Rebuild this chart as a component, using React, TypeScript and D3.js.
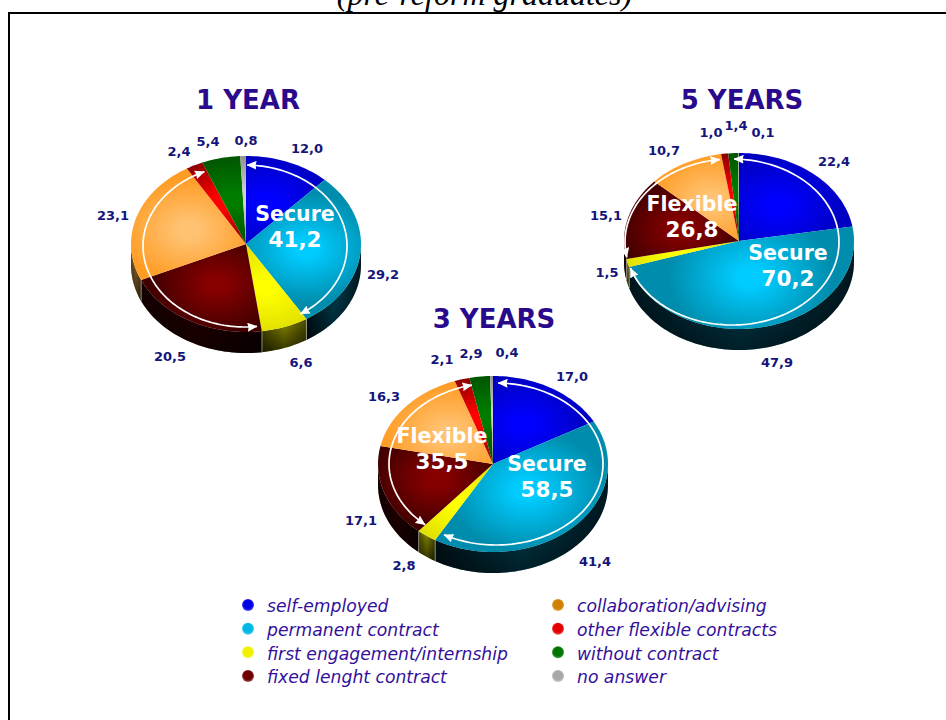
import React from "react";
import * as d3 from "d3";

// ---------- data ----------
const categories = ["self-employed", "permanent contract", "first engagement/internship", "fixed lenght contract", "collaboration/advising", "other flexible contracts", "without contract", "no answer"];
const year1Values = [12.0, 29.2, 6.6, 20.5, 23.1, 2.4, 5.4, 0.8];
const year3Values = [17.0, 41.4, 2.8, 17.1, 16.3, 2.1, 2.9, 0.4];
const year5Values = [22.4, 47.9, 1.5, 15.1, 10.7, 1.0, 1.4, 0.1];
const year1Labels = ["12,0", "29,2", "6,6", "20,5", "23,1", "2,4", "5,4", "0,8"];
const year3Labels = ["17,0", "41,4", "2,8", "17,1", "16,3", "2,1", "2,9", "0,4"];
const year5Labels = ["22,4", "47,9", "1,5", "15,1", "10,7", "1,0", "1,4", "0,1"];
const pieTitles = ["1 YEAR", "3 YEARS", "5 YEARS"];
const secureTotals = ["41,2", "58,5", "70,2"];
const flexibleTotals = ["", "35,5", "26,8"];
const subtitle = "(pre-reform graduates)";

// ---------- styling and layout ----------
const W = 946, H = 720, RX = 115, RY = 88, DEPTH = 21;
const TAU = Math.PI * 2;
const centreFill = ["#0000ff", "#00ccff", "#ffff00", "#860000", "#ffc272", "#ff0000", "#007c00", "#d0d0d0"];
const edgeFill = ["#0000c0", "#008cac", "#e0e000", "#400000", "#ff9c24", "#8a0000", "#005400", "#909090"];
const sideMid = ["#000088", "#005a74", "#8c8c00", "#300000", "#a07830", "#600000", "#003800", "#707070"];
const sideEdge = ["#000040", "#001c26", "#4c4c00", "#140000", "#705020", "#300000", "#001800", "#404040"];
const legendFill = ["#0000e6", "#00b8e6", "#f0f000", "#700000", "#d08000", "#e60000", "#007400", "#a8a8a8"];
const INK = "#14147a", TITLE_INK = "#2a0a8c", LEGEND_INK = "#33109c";

const FONT = "'DejaVu Sans', Verdana, sans-serif";

type Txt = [number, number];
type PieSpec = {
  key: string; values: number[]; labels: string[]; title: string; titleX: number; titleY: number;
  cx: number; cy: number;
  arc: { cx: number; cy: number; rx: number; ry: number };
  labelAt: Txt[];
  secureAt: Txt; secureText: string;
  flexAt: Txt | null; flexText: string;
};

const pies: PieSpec[] = [
  {
    key: "y1", values: year1Values, labels: year1Labels, title: pieTitles[0], titleX: 248, titleY: 109,
    cx: 246, cy: 244, arc: { cx: 245, cy: 246, rx: 102, ry: 81 },
    labelAt: [[307, 148], [383, 274], [301, 362], [170, 356], [113, 215], [179, 151], [208, 141], [246, 140]],
    secureAt: [295, 214], secureText: secureTotals[0], flexAt: null, flexText: flexibleTotals[0],
  },
  {
    key: "y5", values: year5Values, labels: year5Labels, title: pieTitles[2], titleX: 742, titleY: 109,
    cx: 739, cy: 241, arc: { cx: 732, cy: 242, rx: 107, ry: 83 },
    labelAt: [[834, 161], [777, 362], [607, 272], [606, 215], [664, 150], [711, 132], [736, 125], [763, 132]],
    secureAt: [788, 253], secureText: secureTotals[2], flexAt: [692, 204], flexText: flexibleTotals[2],
  },
  {
    key: "y3", values: year3Values, labels: year3Labels, title: pieTitles[1], titleX: 494, titleY: 328,
    cx: 493, cy: 464, arc: { cx: 496, cy: 464, rx: 107, ry: 81 },
    labelAt: [[572, 376], [595, 561], [404, 565], [361, 520], [384, 396], [442, 359], [471, 353], [507, 352]],
    secureAt: [547, 464], secureText: secureTotals[1], flexAt: [442, 436], flexText: flexibleTotals[1],
  },
];

const pieGen = d3.pie<number>().sort(null).value((d) => d);
const lineGen = d3.line<[number, number]>();

const samples = (a: number, b: number): number[] => {
  const n = Math.max(2, Math.ceil(Math.abs(b - a) / 0.03));
  return d3.range(n + 1).map((i) => a + ((b - a) * i) / n);
};
const onEllipse = (cx: number, cy: number, rx: number, ry: number, t: number): [number, number] => [
  cx + rx * Math.sin(t),
  cy - ry * Math.cos(t),
];

function PieChart({ spec }: { spec: PieSpec }) {
  const { cx, cy, arc } = spec;
  const arcs = pieGen(spec.values);
  const sideLo = Math.PI / 2, sideHi = (Math.PI * 3) / 2;

  const v = spec.values;
  const total = d3.sum(v);
  const secureEnd = ((v[0] + v[1]) / total) * TAU;
  const flexStart = ((v[0] + v[1] + v[2]) / total) * TAU;
  const flexEnd = ((v[0] + v[1] + v[2] + v[3] + v[4] + v[5]) / total) * TAU;

  const arcLine = (a: number, b: number) =>
    lineGen(samples(a, b).map((t) => onEllipse(arc.cx, arc.cy, arc.rx, arc.ry, t))) ?? "";

  return (
    <g>
      <defs>
        <linearGradient id={`${spec.key}-shade`} x1="0" y1="0" x2="0" y2="1">
          <stop offset="0" stopColor="#000" stopOpacity="0" />
          <stop offset="1" stopColor="#000" stopOpacity="0.65" />
        </linearGradient>
        {arcs.map((a, i) => {
          const mid = (a.startAngle + a.endAngle) / 2;
          const share = (a.endAngle - a.startAngle) / TAU;
          const f = share > 0.35 ? 0.42 : 0.52;
          const [gx, gy] = onEllipse(cx, cy, RX * f, RY * f, mid);
          const r = RX * (0.48 + share * 0.5);
          const lo = Math.max(a.startAngle, sideLo), hi = Math.min(a.endAngle, sideHi);
          const xs = hi > lo ? samples(lo, hi).map((t) => cx + RX * Math.sin(t)) : [cx, cx + 1];
          return (
            <React.Fragment key={i}>
              <radialGradient
                id={`${spec.key}-top-${i}`}
                gradientUnits="userSpaceOnUse"
                cx={0} cy={0} r={r}
                gradientTransform={`translate(${gx},${gy}) scale(1,${RY / RX})`}
              >
                <stop offset="0" stopColor={centreFill[i]} />
                <stop offset="0.15" stopColor={centreFill[i]} />
                <stop offset="1" stopColor={edgeFill[i]} />
              </radialGradient>
              <linearGradient
                id={`${spec.key}-side-${i}`}
                gradientUnits="userSpaceOnUse"
                x1={d3.min(xs)} y1={0} x2={d3.max(xs)} y2={0}
              >
                <stop offset="0" stopColor={sideEdge[i]} />
                <stop offset="0.5" stopColor={sideMid[i]} />
                <stop offset="1" stopColor={sideEdge[i]} />
              </linearGradient>
            </React.Fragment>
          );
        })}
      </defs>

      {arcs.map((a, i) => {
        const lo = Math.max(a.startAngle, sideLo), hi = Math.min(a.endAngle, sideHi);
        if (hi <= lo) return null;
        const topEdge = samples(lo, hi).map((t) => onEllipse(cx, cy, RX, RY, t));
        const botEdge = samples(hi, lo).map((t) => onEllipse(cx, cy + DEPTH, RX, RY, t));
        const d = (lineGen([...topEdge, ...botEdge]) ?? "") + "Z";
        return (
          <g key={i}>
            <path d={d} fill={`url(#${spec.key}-side-${i})`} />
            <path d={d} fill={`url(#${spec.key}-shade)`} />
            {[lo, hi].map((t, k) =>
              t > sideLo && t < sideHi ? (
                <path
                  key={k}
                  d={lineGen([onEllipse(cx, cy, RX, RY, t), onEllipse(cx, cy + DEPTH, RX, RY, t)]) ?? ""}
                  stroke="#fff"
                  strokeOpacity={0.35}
                  strokeWidth={1}
                />
              ) : null
            )}
          </g>
        );
      })}

      {arcs.map((a, i) => {
        const rim = samples(a.startAngle, a.endAngle).map((t) => onEllipse(cx, cy, RX, RY, t));
        const d = (lineGen([[cx, cy], ...rim]) ?? "") + "Z";
        return <path key={i} d={d} fill={`url(#${spec.key}-top-${i})`} />;
      })}

      <g fill="none" stroke="#fff" strokeWidth={1.7}>
        <path d={arcLine(0.02, secureEnd - 0.02)} markerStart="url(#arrow)" markerEnd="url(#arrow)" />
        <path d={arcLine(flexStart + 0.02, flexEnd - 0.02)} markerStart="url(#arrow)" markerEnd="url(#arrow)" />
      </g>

      <text x={spec.titleX} y={spec.titleY} textAnchor="middle" fontFamily={FONT} fontWeight="bold" fontSize={26} fill={TITLE_INK}>
        {spec.title}
      </text>

      {spec.labels.map((l, i) => (
        <text key={i} x={spec.labelAt[i][0]} y={spec.labelAt[i][1]} dy="0.36em" textAnchor="middle" fontFamily={FONT} fontWeight="bold" fontSize={13} fill={INK}>
          {l}
        </text>
      ))}

      <g fontFamily={FONT} fontWeight="bold" fontSize={20.5} fill="#fff" textAnchor="middle">
        <text x={spec.secureAt[0]} y={spec.secureAt[1]} dy="0.36em">Secure</text>
        <text x={spec.secureAt[0]} y={spec.secureAt[1] + 25} dy="0.36em" fontSize={21.5}>{spec.secureText}</text>
        {spec.flexAt && (
          <>
            <text x={spec.flexAt[0]} y={spec.flexAt[1]} dy="0.36em">Flexible</text>
            <text x={spec.flexAt[0]} y={spec.flexAt[1] + 25} dy="0.36em" fontSize={21.5}>{spec.flexText}</text>
          </>
        )}
      </g>
    </g>
  );
}

const legendY = d3.scalePoint<number>().domain([0, 1, 2, 3]).range([606, 677]);
const legendColumns = [
  { dot: 248, text: 267 },
  { dot: 558, text: 577 },
];

export default function App() {
  return (
    <svg width={W} height={H} viewBox={`0 0 ${W} ${H}`} style={{ position: "absolute", left: 0, top: 0, display: "block", background: "#fff" }}>
      <defs>
        <marker id="arrow" markerUnits="userSpaceOnUse" viewBox="0 0 10 9" refX={9.5} refY={4.5} markerWidth={10} markerHeight={9} orient="auto-start-reverse">
          <path d="M0,0L10,4.5L0,9L1,4.5Z" fill="#fff" />
        </marker>
        {legendFill.map((c, i) => (
          <radialGradient key={i} id={`legend-${i}`} cx="0.5" cy="0.45" r="0.55">
            <stop offset="0" stopColor={c} />
            <stop offset="0.65" stopColor={c} />
            <stop offset="1" stopColor={c} stopOpacity="0.65" />
          </radialGradient>
        ))}
      </defs>

      <text x={484.5} y={5} textAnchor="middle" fontFamily="'Liberation Serif', serif" fontStyle="italic" fontSize={32} fill="#000">
        {subtitle}
      </text>
      <path d={`M9,${H}V13H${W}`} fill="none" stroke="#000" strokeWidth={2} />

      {pies.map((p) => (
        <PieChart key={p.key} spec={p} />
      ))}

      {categories.map((c, i) => {
        const col = legendColumns[Math.floor(i / 4)];
        const y = legendY(i % 4) ?? 0;
        return (
          <g key={c}>
            <circle cx={col.dot} cy={y - 1} r={6} fill={`url(#legend-${i})`} />
            <text x={col.text} y={y} dy="0.36em" fontFamily={FONT} fontStyle="italic" fontSize={17.2} fill={LEGEND_INK}>
              {c}
            </text>
          </g>
        );
      })}
    </svg>
  );
}
